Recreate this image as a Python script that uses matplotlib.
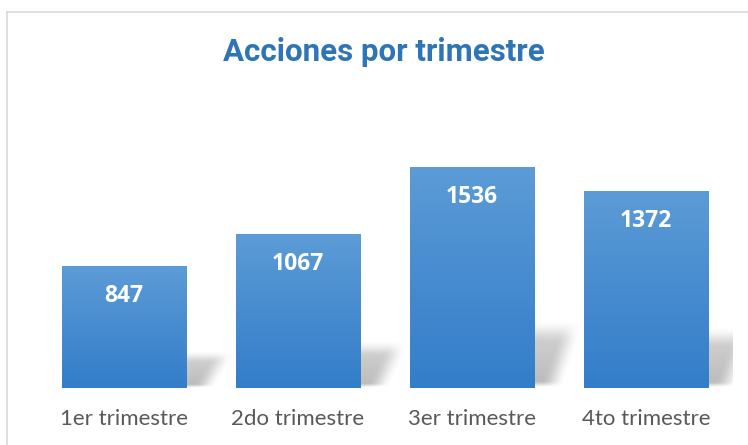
import numpy as np
import matplotlib
matplotlib.use("Agg")
from matplotlib import pyplot as plt
from matplotlib.patches import Rectangle
from matplotlib.lines import Line2D

# data
categories = ['1er trimestre', '2do trimestre', '3er trimestre', '4to trimestre']
values = [847, 1067, 1536, 1372]
title = 'Acciones por trimestre'

top_col = np.array([0.36, 0.61, 0.84])
bot_col = np.array([0.20, 0.49, 0.79])
bar_w = 0.713
ymax = 1800

fig = plt.figure(figsize=(7.48, 4.45), dpi=100)
ax = fig.add_axes([37/748, 57/445, 696/748, 259/445])
ax.set_xlim(-0.5, len(values) - 0.5)
ax.set_ylim(0, ymax)

# frame around the chart (only top and left are visible in the crop)
fig.add_artist(Line2D([7/748, 7/748], [0, 1 - 11.5/445], color='#d9d9d9', lw=1.2))
fig.add_artist(Line2D([7/748, 1], [1 - 11.5/445, 1 - 11.5/445], color='#d9d9d9', lw=1.2))

x = np.arange(len(values))

# vertical gradient for the bars
grad = np.linspace(0, 1, 256)[:, None]
grad_img = top_col[None, None, :] * (1 - grad[:, :, None]) + bot_col[None, None, :] * grad[:, :, None]

def smooth(t):
    t = np.clip(t, 0, 1)
    return t * t * (3 - 2 * t)

for i, v in enumerate(values):
    xl = x[i] - bar_w / 2
    xr = x[i] + bar_w / 2

    # soft perspective shadow to the right of the bar
    sh_h = 0.31 * v
    sh_w = 0.30
    nx, ny = 120, 120
    u = np.linspace(0, 1, nx)[None, :]
    yy = np.linspace(1, 0, ny)[:, None]          # fraction of shadow height, top row first
    xb = 0.55 + 0.45 * yy                         # right edge slants back toward the bar at the bottom
    a = smooth((1.0 - yy) / 0.35) * smooth((xb - u) / 0.45)
    a = a * (0.6 + 0.4 * (1 - yy)) * 0.45
    a = a * smooth(yy / 0.1)
    sh = np.zeros((ny, nx, 4))
    sh[..., :3] = 0.40
    sh[..., 3] = a
    ax.imshow(sh, extent=[xr, xr + sh_w, 0, sh_h], aspect='auto', zorder=1,
              interpolation='bilinear')

    # bar with gradient fill
    im = ax.imshow(grad_img, extent=[xl, xr, 0, v], aspect='auto', zorder=2,
                   interpolation='bilinear')
    rect = Rectangle((xl, 0), bar_w, v, transform=ax.transData)
    im.set_clip_path(rect)

    ax.annotate(str(v), (x[i], v), xytext=(0, -30 * 0.72), textcoords='offset points',
                ha='center', va='center', color='white', fontsize=16.5,
                fontweight='bold', family=['Open Sans', 'DejaVu Sans'], zorder=3)

ax.set_xlim(-0.5, len(values) - 0.5)
ax.set_ylim(0, ymax)
ax.set_xticks(x)
ax.set_xticklabels(categories, color='#595959', fontsize=16, family=['Lato', 'DejaVu Sans'])
ax.tick_params(axis='x', length=0, pad=15)
ax.set_yticks([])
for s in ax.spines.values():
    s.set_visible(False)
ax.patch.set_visible(False)

fig.text(384/748, 1 - 52/445, title, ha='center', va='center', color='#2e75b6',
         fontsize=22.5, fontweight='bold', family=['Liberation Sans Narrow', 'Roboto', 'DejaVu Sans'])

fig.savefig('out.png', dpi=100)
